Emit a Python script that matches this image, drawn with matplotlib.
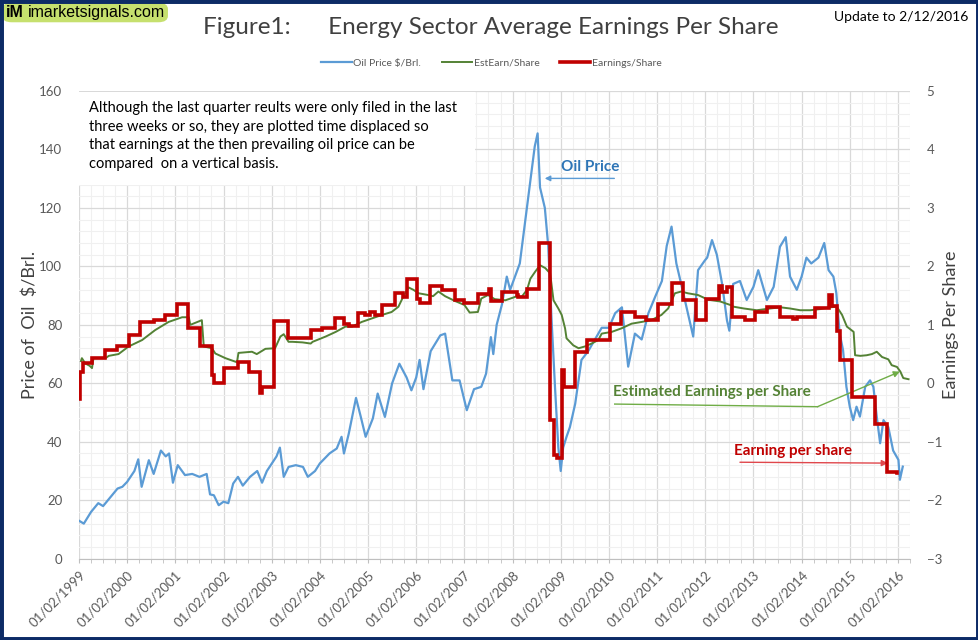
import matplotlib
matplotlib.use("Agg")
import matplotlib.pyplot as plt
from matplotlib.patches import Rectangle, FancyBboxPatch
from matplotlib.ticker import MultipleLocator, FixedLocator

# ---------------- data (decimal years) ----------------
oil_years = [1999.00, 1999.10, 1999.25, 1999.40, 1999.50, 1999.65, 1999.80, 1999.90, 2000.00, 2000.15,
             2000.23, 2000.30, 2000.45, 2000.55, 2000.70, 2000.80, 2000.87, 2000.95, 2001.05, 2001.20,
             2001.35, 2001.50, 2001.65, 2001.72, 2001.80, 2001.90, 2002.00, 2002.10, 2002.20, 2002.30,
             2002.40, 2002.55, 2002.70, 2002.80, 2002.90, 2003.10, 2003.17, 2003.25, 2003.35, 2003.50,
             2003.65, 2003.75, 2003.90, 2004.00, 2004.20, 2004.35, 2004.45, 2004.50, 2004.60, 2004.75,
             2004.85, 2004.95, 2005.10, 2005.20, 2005.35, 2005.50, 2005.65, 2005.80, 2005.90, 2006.00,
             2006.07, 2006.15, 2006.30, 2006.50, 2006.60, 2006.75, 2006.90, 2007.05, 2007.20, 2007.35,
             2007.45, 2007.55, 2007.60, 2007.67, 2007.78, 2007.88, 2007.95, 2008.05, 2008.15, 2008.22,
             2008.33, 2008.40, 2008.46, 2008.52, 2008.57, 2008.67, 2008.74, 2008.81, 2008.88, 2008.95,
             2009.00, 2009.05, 2009.12, 2009.19, 2009.30, 2009.43, 2009.57, 2009.71, 2009.85, 2010.00,
             2010.13, 2010.27, 2010.40, 2010.54, 2010.68, 2010.82, 2010.96, 2011.10, 2011.20, 2011.30,
             2011.40, 2011.50, 2011.64, 2011.75, 2011.85, 2011.99, 2012.04, 2012.14, 2012.24, 2012.35,
             2012.45, 2012.50, 2012.58, 2012.72, 2012.86, 2013.00, 2013.10, 2013.28, 2013.42, 2013.55,
             2013.67, 2013.76, 2013.90, 2014.00, 2014.10, 2014.20, 2014.35, 2014.47, 2014.56, 2014.66,
             2014.72, 2014.79, 2014.86, 2014.93, 2015.00, 2015.07, 2015.14, 2015.21, 2015.32, 2015.42,
             2015.49, 2015.56, 2015.63, 2015.70, 2015.80, 2015.90, 2016.01, 2016.04, 2016.10]
oil_price = [13, 12, 16, 19, 18, 21, 24, 24.6, 26.3, 30,
             34, 24.6, 33.7, 29, 37, 35, 36, 26, 32, 28.6,
             29, 28, 29, 22, 21.7, 18.3, 19.5, 19, 25.7, 28,
             25, 28, 30, 26, 30, 35, 38, 28, 31.4, 32,
             31.4, 28, 30, 32.6, 36, 37.7, 41.7, 36, 42.8, 55,
             48.5, 41.7, 48, 56.5, 48.5, 60, 66.7, 62, 57.6, 62,
             68, 58, 71, 76.4, 77, 61, 61, 50.8, 58, 58.8,
             63.3, 75.8, 70, 80, 87, 96.5, 92, 96.5, 101, 110,
             124, 133, 141, 145.5, 127, 120, 107, 81.6, 59, 38,
             30, 38, 41.7, 45, 53, 68, 71, 75, 79, 79,
             84, 86, 65.7, 77, 75, 84, 89.6, 95, 107, 113.6,
             101, 94, 84, 76, 98.7, 102, 103, 109, 104, 94,
             81.6, 78, 94, 95, 88.5, 93, 98.7, 88.5, 93, 106.7,
             110, 96.5, 92, 96.5, 103, 101, 103, 108, 98.7, 96.5,
             91, 77, 71.4, 58.8, 52, 47.4, 52, 48.6, 58.8, 61,
             58.8, 48.6, 39.5, 47.4, 45, 37, 33.8, 27, 31.5]

est_years = [1999.04, 1999.06, 1999.13, 1999.22, 1999.27, 1999.30, 1999.55, 1999.62, 1999.82, 2000.03,
             2000.31, 2000.58, 2000.86, 2001.14, 2001.28, 2001.31, 2001.55, 2001.59, 2001.76, 2001.83,
             2002.04, 2002.28, 2002.31, 2002.59, 2002.69, 2002.87, 2003.07, 2003.18, 2003.25, 2003.35,
             2003.43, 2003.64, 2003.81, 2003.85, 2004.12, 2004.33, 2004.53, 2004.67, 2004.87, 2005.08,
             2005.29, 2005.49, 2005.63, 2005.73, 2005.84, 2005.94, 2006.05, 2006.25, 2006.35, 2006.46,
             2006.60, 2006.80, 2007.00, 2007.11, 2007.28, 2007.35, 2007.49, 2007.63, 2007.85, 2008.06,
             2008.19, 2008.30, 2008.37, 2008.47, 2008.57, 2008.68, 2008.78, 2008.85, 2008.95, 2009.02,
             2009.09, 2009.12, 2009.26, 2009.37, 2009.50, 2009.64, 2009.78, 2009.85, 2010.06, 2010.26,
             2010.47, 2010.68, 2010.88, 2011.09, 2011.23, 2011.37, 2011.50, 2011.64, 2011.85, 2012.06,
             2012.31, 2012.52, 2012.59, 2012.80, 2013.07, 2013.35, 2013.56, 2013.76, 2013.97, 2014.18,
             2014.39, 2014.59, 2014.73, 2014.84, 2014.94, 2015.08, 2015.11, 2015.22, 2015.35, 2015.46,
             2015.56, 2015.67, 2015.80, 2015.87, 2015.98, 2016.05, 2016.11, 2016.22]
est_eps = [0.38, 0.43, 0.34, 0.30, 0.26, 0.43, 0.43, 0.47, 0.50, 0.63,
           0.74, 0.91, 1.05, 1.13, 1.13, 1.00, 1.08, 0.63, 0.60, 0.51,
           0.43, 0.36, 0.52, 0.54, 0.50, 0.59, 0.60, 0.80, 0.84, 0.71,
           0.71, 0.70, 0.68, 0.71, 0.80, 0.88, 0.97, 0.97, 1.05, 1.11,
           1.17, 1.22, 1.31, 1.48, 1.64, 1.60, 1.54, 1.51, 1.49, 1.57,
           1.49, 1.41, 1.34, 1.21, 1.22, 1.45, 1.51, 1.44, 1.42, 1.48,
           1.48, 1.60, 1.79, 1.91, 2.02, 1.97, 1.88, 1.42, 1.28, 1.17,
           0.94, 0.77, 0.65, 0.60, 0.63, 0.68, 0.74, 0.85, 0.88, 0.94,
           1.02, 1.05, 1.08, 1.17, 1.28, 1.54, 1.57, 1.54, 1.51, 1.43,
           1.40, 1.34, 1.31, 1.28, 1.25, 1.28, 1.30, 1.28, 1.25, 1.25,
           1.27, 1.30, 1.31, 1.17, 0.97, 0.88, 0.48, 0.47, 0.48, 0.50,
           0.54, 0.45, 0.41, 0.31, 0.28, 0.20, 0.09, 0.07]

eps_years = [1999.00, 1999.02, 1999.08, 1999.27, 1999.53, 1999.79, 2000.03, 2000.27, 2000.55, 2000.79,
             2001.03, 2001.27, 2001.52, 2001.76, 2001.80, 2002.00, 2002.31, 2002.52, 2002.76, 2002.80,
             2003.05, 2003.33, 2003.81, 2004.05, 2004.31, 2004.50, 2004.60, 2004.80, 2004.94, 2005.05,
             2005.15, 2005.29, 2005.56, 2005.73, 2005.80, 2006.01, 2006.08, 2006.28, 2006.53, 2006.80,
             2007.00, 2007.28, 2007.52, 2007.55, 2007.78, 2008.09, 2008.12, 2008.30, 2008.54, 2008.78,
             2008.85, 2008.93, 2009.02, 2009.06, 2009.30, 2009.54, 2010.02, 2010.26, 2010.54, 2010.78,
             2011.02, 2011.30, 2011.54, 2011.81, 2012.02, 2012.28, 2012.35, 2012.46, 2012.55, 2012.83,
             2013.04, 2013.28, 2013.56, 2013.83, 2013.90, 2014.28, 2014.56, 2014.63, 2014.73, 2014.80,
             2015.04, 2015.52, 2015.77, 2015.98]
eps_vals = [-0.26, 0.20, 0.34, 0.44, 0.57, 0.63, 0.83, 1.05, 1.09, 1.17,
            1.36, 0.94, 0.63, 0.14, 0.00, 0.26, 0.37, 0.20, -0.17, -0.06,
            1.07, 0.77, 0.91, 0.95, 1.12, 1.02, 0.98, 1.20, 1.17, 1.22,
            1.17, 1.34, 1.54, 1.48, 1.78, 1.45, 1.37, 1.66, 1.60, 1.42,
            1.37, 1.53, 1.62, 1.40, 1.57, 1.51, 1.48, 1.61, 2.40, -0.63,
            -1.23, -1.28, 0.23, -0.06, 0.54, 0.74, 1.02, 1.22, 1.13, 1.08,
            1.35, 1.71, 1.42, 1.08, 1.45, 1.66, 1.57, 1.65, 1.14, 1.08,
            1.22, 1.31, 1.14, 1.10, 1.14, 1.28, 1.51, 1.32, 0.90, 0.40,
            -0.23, -0.69, -1.51, -1.53]

tick_years = list(range(1999, 2017))
tick_labels = ["01/02/%d" % y for y in tick_years]

# ---------------- styling ----------------
FONT = ["Lato", "DejaVu Sans"]
plt.rcParams['font.family'] = FONT
W, H = 979, 640
fig = plt.figure(figsize=(W / 100, H / 100), dpi=100)

def fx(x):
    return x / W

def fy(y):
    return 1 - y / H

L, R, T, B = 79, 910, 91, 558.7
ax = fig.add_axes([fx(L), fy(B), fx(R) - fx(L), fy(T) - fy(B)])
ax2 = ax.twinx()

BLUE, GREEN, RED = "#5b9bd5", "#548235", "#c00000"
GRID_MAJ, GRID_MIN = "#d9d9d9", "#f0f0f0"
TXT = "#595959"

ax.set_xlim(1999.0, 2016.25)
ax.set_ylim(0, 160)
ax2.set_ylim(-3, 5)

ax.xaxis.set_major_locator(FixedLocator(tick_years))
ax.xaxis.set_minor_locator(MultipleLocator(0.25))
ax.yaxis.set_major_locator(MultipleLocator(20))
ax.yaxis.set_minor_locator(MultipleLocator(4))
ax2.yaxis.set_major_locator(MultipleLocator(1))

ax.set_axisbelow(True)
ax.grid(which="major", color=GRID_MAJ, lw=0.9)
ax.grid(which="minor", color=GRID_MIN, lw=0.8)

for a in (ax, ax2):
    for s in a.spines.values():
        s.set_visible(False)
ax.spines["bottom"].set_visible(True)
ax.spines["bottom"].set_color("#bfbfbf")

ax.set_xticks(tick_years)
ax.set_xticklabels(tick_labels, rotation=45, ha="right", va="top",
                   rotation_mode="anchor", fontsize=9.5, color=TXT)
ax.tick_params(axis="x", which="both", length=3, color="#bfbfbf", pad=4)
ax.tick_params(axis="y", which="both", length=0, labelsize=9.5, labelcolor=TXT, pad=12)
ax2.tick_params(axis="y", which="both", length=0, labelsize=9.5, labelcolor=TXT, pad=12)

ax.set_ylabel("Price of  Oil  $/Brl.", fontsize=13, color="#404040", labelpad=1)
ax2.set_ylabel("Earnings Per Share", fontsize=13, color="#404040", labelpad=1)

# white note box
ax.add_patch(Rectangle((0, 0.7995), 0.4765, 0.198, transform=ax.transAxes,
                       facecolor="white", edgecolor="none", zorder=1))
note = ("Although the last quarter reults were only filed in the last\n"
        "three weeks or so, they are plotted time displaced so\n"
        "that earnings at the then prevailing oil price can be\n"
        "compared  on a vertical basis.")
fig.text(fx(89), fy(101), note, fontsize=10.5, color="black", va="top", ha="left",
         linespacing=1.42)

# series
l1, = ax.plot(oil_years, oil_price, color=BLUE, lw=1.6, zorder=2)
l2, = ax2.plot(est_years, est_eps, color=GREEN, lw=1.4, zorder=3)
l3, = ax2.plot(eps_years, eps_vals, color=RED, lw=2.6, drawstyle="steps-post",
               zorder=4, solid_joinstyle="miter")

# annotations (left-axis data coords)
ax.annotate("", xy=(2008.61, 130.1), xytext=(2010.17, 130.1),
            arrowprops=dict(arrowstyle="-|>", color=BLUE, lw=1.0, mutation_scale=8), zorder=6)
ax.text(2009.61, 134.0, "Oil Price", color="#2e75b6", fontsize=11, fontweight="bold",
        ha="center", va="center", zorder=6)

ax.plot([2010.12, 2014.33], [52.9, 52.0], color="#70ad47", lw=1.0, zorder=6)
ax.annotate("", xy=(2016.04, 64.0), xytext=(2014.33, 52.0),
            arrowprops=dict(arrowstyle="-|>", color="#70ad47", lw=1.0, mutation_scale=9,
                            shrinkA=0, shrinkB=0), zorder=6)
ax.text(2012.14, 56.9, "Estimated Earnings per Share", color=GREEN, fontsize=11,
        fontweight="bold", ha="center", va="center", zorder=6)

ax.annotate("", xy=(2015.79, 32.7), xytext=(2012.72, 33.0),
            arrowprops=dict(arrowstyle="-|>", color="#e0474c", lw=1.0, mutation_scale=9,
                            shrinkA=0, shrinkB=0), zorder=6)
ax.text(2013.82, 36.7, "Earning per share", color=RED, fontsize=11,
        fontweight="bold", ha="center", va="center", zorder=6)

# title, legend, extras
fig.text(fx(490.5), fy(28), "Figure1:      Energy Sector Average Earnings Per Share",
         fontsize=17.5, color="#404040", ha="center", va="center")
fig.text(fx(968), fy(17), "Update to 2/12/2016", fontsize=10, color="black",
         ha="right", va="center")

leg = fig.legend([l1, l2, l3], ["Oil Price $/Brl.", "EstEarn/Share", "Earnings/Share"],
                 loc="center", bbox_to_anchor=(fx(491.5), fy(63)), ncol=3, frameon=False,
                 fontsize=7.5, handlelength=2.9, handletextpad=0.15, columnspacing=2.0,
                 labelcolor=TXT)

# logo
fig.patches.append(FancyBboxPatch((fx(4), fy(21)), fx(162), 17 / H,
                                  boxstyle="round,pad=0.002,rounding_size=0.01",
                                  transform=fig.transFigure, facecolor="#c6e06e",
                                  edgecolor="none"))
fig.text(fx(6), fy(12.5), "iM", fontsize=11.5, fontweight="bold", family="Liberation Sans",
         ha="left", va="center", color="black")
fig.text(fx(28), fy(12.5), "imarketsignals.com", fontsize=11.5, family="Liberation Sans",
         ha="left", va="center", color="black")

# border
fig.patches.append(Rectangle((0, 0), 1, 1, transform=fig.transFigure, fill=False,
                             edgecolor="#0d2b66", lw=5))

fig.savefig("out.png", dpi=100)
